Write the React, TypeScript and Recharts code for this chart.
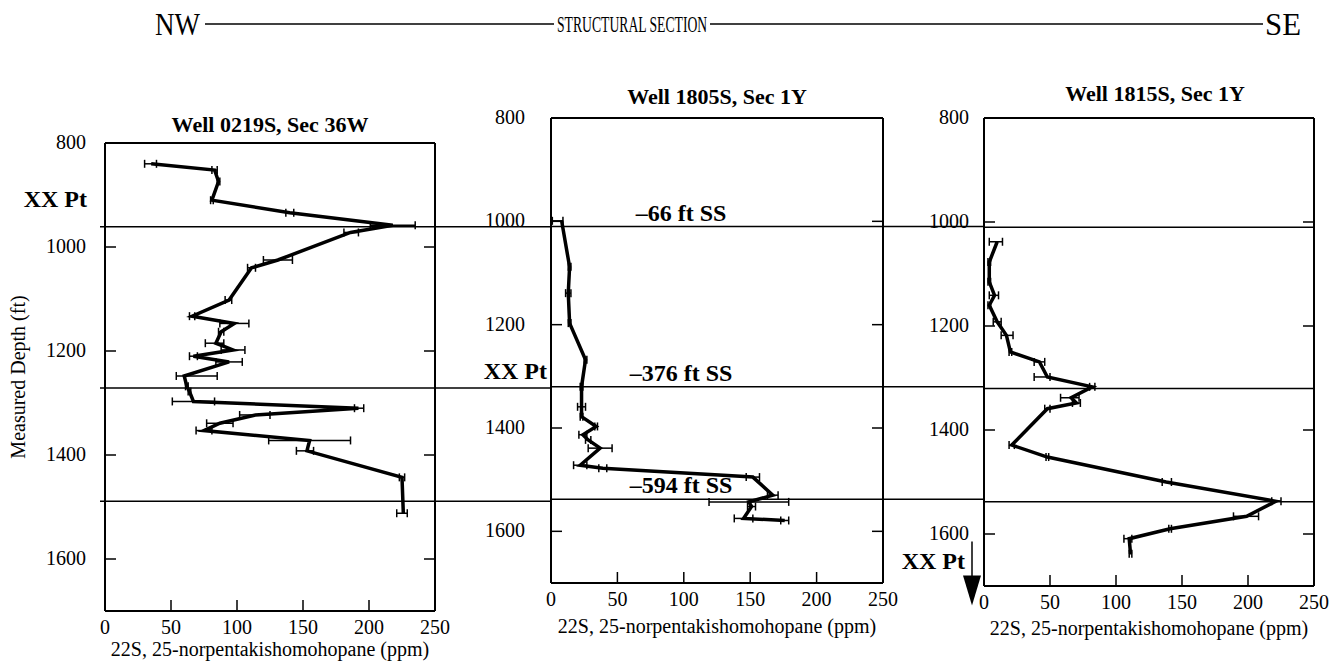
import React from "react";
import {
  ScatterChart,
  Scatter,
  XAxis,
  YAxis,
  ErrorBar,
  ReferenceLine,
  ReferenceDot,
} from "recharts";

const FONT = "'Liberation Serif', 'Times New Roman', serif";

const ppmTicks = [0, 50, 100, 150, 200, 250];
const depthTicks = [800, 1000, 1200, 1400, 1600];
const depthDomain: [number, number] = [800, 1700];
const ppmDomain: [number, number] = [0, 250];

// correlation markers, feet subsea
const markerSubsea = [66, 376, 594];

// Well 0219S, Sec 36W
const depth0219 = [840, 852, 874, 910, 934, 958, 972, 1025, 1040, 1102, 1133, 1147, 1163, 1185, 1198, 1210, 1221, 1248, 1268, 1278, 1297, 1310, 1323, 1339, 1353, 1372, 1392, 1443, 1512];
const ppm0219 = [35, 83, 86, 81, 140, 218, 186, 131, 111, 94, 66, 98, 88, 84, 97, 67, 94, 60, 62, 64, 67, 192, 114, 87, 75, 155, 153, 225, 226];
const err0219 = [[5, 4], [2, 2], [1, 1], [1, 1], [3, 3], [17, 17], [5, 6], [11, 11], [3, 3], [3, 2], [2, 2], [11, 11], [2, 2], [8, 6], [9, 9], [3, 3], [10, 10], [6, 25], [1, 1], [1, 1], [16, 16], [3, 4], [12, 11], [10, 10], [6, 6], [31, 31], [8, 5], [2, 2], [5, 3]];

// Well 1805S, Sec 1Y
const depth1805 = [999, 1088, 1139, 1197, 1268, 1320, 1359, 1378, 1397, 1413, 1423, 1439, 1472, 1478, 1495, 1530, 1543, 1552, 1575, 1579];
const ppm1805 = [8, 14, 13, 14, 26, 23, 23, 23, 34, 24, 28, 37, 22, 39, 152, 167, 149, 151, 145, 176];
const err1805 = [[7, 1], [1, 1], [2, 2], [1, 1], [1, 1], [1, 1], [3, 3], [1, 1], [1, 1], [3, 3], [2, 2], [9, 9], [5, 5], [3, 3], [5, 5], [4, 4], [30, 30], [3, 3], [7, 7], [3, 3]];

// Well 1815S, Sec 1Y
const depth1815 = [1038, 1077, 1115, 1141, 1160, 1192, 1218, 1250, 1269, 1298, 1317, 1338, 1348, 1359, 1429, 1452, 1500, 1537, 1566, 1590, 1609, 1638];
const ppm1815 = [10, 4, 4, 8, 4, 10, 17, 20, 42, 48, 82, 66, 70, 48, 21, 48, 138, 221, 199, 141, 110, 111];
const err1815 = [[6, 4], [1, 1], [1, 1], [4, 3], [1, 1], [3, 3], [4, 5], [1, 1], [4, 4], [10, 2], [2, 2], [8, 6], [3, 3], [2, 2], [2, 2], [1, 1], [3, 4], [3, 4], [10, 9], [1, 1], [4, 2], [1, 1]];

type Well = {
  title: string;
  depths: number[];
  ppm: number[];
  err: number[][];
  datum: number; // measured depth of 0 ft SS
  ptDepth: number; // "XX Pt" pick
  plot: { x0: number; x1: number; y0: number; y1: number };
  extL: number;
  extR: number;
  yTickMargin: number;
  titleGap: number;
  titleDx: number;
  xTitleOffset: number;
  ptGap: number;
  yTitle?: boolean;
  markerLabels?: boolean;
  arrow?: boolean;
};

const wells: Well[] = [
  {
    title: "Well 0219S, Sec 36W",
    depths: depth0219, ppm: ppm0219, err: err0219,
    datum: 895, ptDepth: 908,
    plot: { x0: 105, x1: 435, y0: 143, y1: 611 },
    extL: 5, extR: 116, yTickMargin: 30, titleGap: 10, titleDx: 0, xTitleOffset: 14, ptGap: 18,
    yTitle: true,
  },
  {
    title: "Well 1805S, Sec 1Y",
    depths: depth1805, ppm: ppm1805, err: err1805,
    datum: 944, ptDepth: 1290,
    plot: { x0: 551, x1: 883, y0: 118, y1: 583 },
    extL: 0, extR: 101, yTickMargin: 37, titleGap: 13, titleDx: 0, xTitleOffset: 9, ptGap: 4,
    markerLabels: true,
  },
  {
    title: "Well 1815S, Sec 1Y",
    depths: depth1815, ppm: ppm1815, err: err1815,
    datum: 944, ptDepth: 1653,
    plot: { x0: 984, x1: 1314, y0: 118, y1: 586 },
    extL: 0, extR: 0, yTickMargin: 26, titleGap: 16, titleDx: 6, xTitleOffset: 10, ptGap: 19,
    arrow: true,
  },
];

const PAD_L = 110;
const PAD_R = 130;
const PAD_T = 60;
const PAD_B = 60;

const axisLine = { stroke: "#000", strokeWidth: 2 };
const tickLine = { stroke: "#000", strokeWidth: 1.5 };
const blank = () => "";

const serif = { fontFamily: FONT, fill: "#000" };

// tick label under the concentration axis
const PpmTick = (p: any) => (
  <text x={p.x} y={p.y} dy="0.71em" textAnchor="middle" fontSize={20} style={serif}>
    {p.payload.value}
  </text>
);

// tick label left of the depth axis
const DepthTick = (p: any) => (
  <text x={p.x} y={p.y} dy="0.3em" textAnchor="end" fontSize={20} style={serif}>
    {p.payload.value}
  </text>
);

function WellPanel({ well }: { well: Well }) {
  const { plot } = well;
  const width = plot.x1 - plot.x0 + PAD_L + PAD_R;
  const height = plot.y1 - plot.y0 + PAD_T + PAD_B;
  const data = well.depths.map((d, i) => ({ depth: d, ppm: well.ppm[i], err: well.err[i] }));

  return (
    <div style={{ position: "absolute", left: plot.x0 - PAD_L, top: plot.y0 - PAD_T }}>
      <ScatterChart
        width={width}
        height={height}
        margin={{ top: PAD_T - 1, right: PAD_R - 1, bottom: 1, left: 0 }}
      >
        <XAxis
          xAxisId="b"
          type="number"
          dataKey="ppm"
          domain={ppmDomain}
          ticks={ppmTicks}
          allowDataOverflow
          height={PAD_B - 1}
          tickSize={-11}
          tickMargin={20}
          axisLine={axisLine}
          tickLine={tickLine}
          tick={PpmTick}
          label={{
            content: (p: any) => (
              <text
                x={p.viewBox.x + p.viewBox.width / 2}
                y={p.viewBox.y + p.viewBox.height - well.xTitleOffset}
                textAnchor="middle"
                fontSize={20}
                style={serif}
              >
                22S, 25-norpentakishomohopane (ppm)
              </text>
            ),
          }}
        />
        <XAxis
          xAxisId="t"
          type="number"
          orientation="top"
          domain={ppmDomain}
          ticks={ppmTicks}
          allowDataOverflow
          height={1}
          tickSize={-11}
          tickFormatter={blank}
          axisLine={axisLine}
          tickLine={tickLine}
          label={{
            content: (p: any) => (
              <text
                x={p.viewBox.x + p.viewBox.width / 2 + well.titleDx}
                y={p.viewBox.y - well.titleGap}
                textAnchor="middle"
                fontSize={22}
                fontWeight={700}
                style={serif}
              >
                {well.title}
              </text>
            ),
          }}
        />
        <YAxis
          yAxisId="l"
          type="number"
          dataKey="depth"
          domain={depthDomain}
          reversed
          ticks={depthTicks}
          allowDataOverflow
          width={PAD_L}
          tickSize={-11}
          tickMargin={well.yTickMargin}
          axisLine={axisLine}
          tickLine={tickLine}
          tick={DepthTick}
          label={
            well.yTitle
              ? {
                  content: (p: any) => {
                    const cx = p.viewBox.x + 23;
                    const cy = p.viewBox.y + p.viewBox.height / 2;
                    return (
                      <text
                        x={cx}
                        y={cy}
                        dy="0.33em"
                        textAnchor="middle"
                        fontSize={20}
                        transform={`rotate(-90, ${cx}, ${cy})`}
                        style={serif}
                      >
                        Measured Depth (ft)
                      </text>
                    );
                  },
                }
              : undefined
          }
        />
        <YAxis
          yAxisId="r"
          type="number"
          orientation="right"
          domain={depthDomain}
          reversed
          ticks={depthTicks}
          allowDataOverflow
          width={1}
          tickSize={-11}
          tickFormatter={blank}
          axisLine={axisLine}
          tickLine={tickLine}
        />

        {markerSubsea.map((ss) => (
          <ReferenceLine
            key={ss}
            xAxisId="b"
            yAxisId="l"
            y={well.datum + ss}
            ifOverflow="visible"
            shape={(p: any) => (
              <g>
                <line
                  x1={p.x1 - well.extL}
                  x2={p.x2 + well.extR}
                  y1={p.y1}
                  y2={p.y2}
                  stroke="#000"
                  strokeWidth={1.5}
                />
                {well.markerLabels && (
                  <text
                    x={p.x1 + 130}
                    y={p.y1 - 6}
                    textAnchor="middle"
                    fontSize={24}
                    fontWeight={700}
                    style={serif}
                  >
                    {`\u2013${ss} ft SS`}
                  </text>
                )}
              </g>
            )}
          />
        ))}

        <ReferenceDot
          xAxisId="b"
          yAxisId="l"
          x={0}
          y={well.ptDepth}
          ifOverflow="visible"
          shape={(p: any) => (
            <g>
              <text
                x={p.cx - well.ptGap}
                y={p.cy}
                dy="0.33em"
                textAnchor="end"
                fontSize={24}
                fontWeight={700}
                style={serif}
              >
                XX Pt
              </text>
              {well.arrow && (
                <g>
                  <line x1={p.cx - 12} x2={p.cx - 12} y1={p.cy - 20} y2={p.cy + 16} stroke="#000" strokeWidth={1.5} />
                  <polygon
                    points={`${p.cx - 21},${p.cy + 14} ${p.cx - 3},${p.cy + 14} ${p.cx - 12},${p.cy + 44}`}
                    fill="#000"
                  />
                </g>
              )}
            </g>
          )}
        />

        <Scatter
          xAxisId="b"
          yAxisId="l"
          data={data}
          fill="#000"
          line={{ stroke: "#000", strokeWidth: 3.5 }}
          shape={() => <g />}
          isAnimationActive={false}
        >
          <ErrorBar dataKey="err" direction="x" width={4} stroke="#000" strokeWidth={1.5} />
        </Scatter>
      </ScatterChart>
    </div>
  );
}

export default function App() {
  return (
    <div
      style={{
        position: "absolute",
        left: 0,
        top: 0,
        width: 1333,
        height: 663,
        overflow: "hidden",
        background: "#fff",
        fontFamily: FONT,
      }}
    >
      <svg width={1333} height={50} style={{ position: "absolute", left: 0, top: 0 }}>
        <text x={155} y={35} fontSize={32} textLength={45} lengthAdjust="spacingAndGlyphs" style={serif}>
          NW
        </text>
        <line x1={205} x2={554} y1={24} y2={24} stroke="#000" strokeWidth={1.5} />
        <text transform="translate(557, 32) scale(0.57, 1)" fontSize={24} style={serif}>
          STRUCTURAL SECTION
        </text>
        <line x1={710} x2={1263} y1={24} y2={24} stroke="#000" strokeWidth={1.5} />
        <text x={1265} y={35} fontSize={32} textLength={36} lengthAdjust="spacingAndGlyphs" style={serif}>
          SE
        </text>
      </svg>
      {wells.map((w) => (
        <WellPanel key={w.title} well={w} />
      ))}
    </div>
  );
}
